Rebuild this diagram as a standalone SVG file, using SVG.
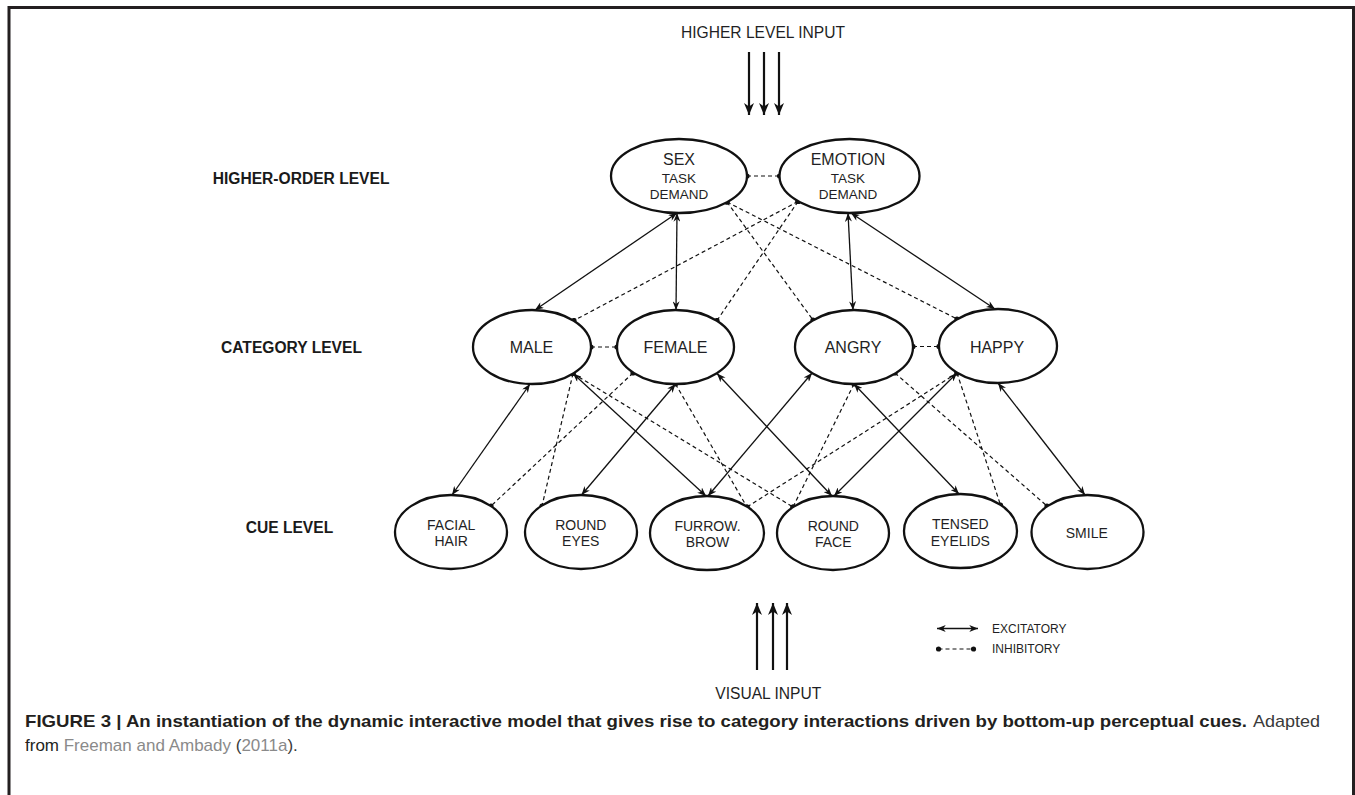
<svg xmlns="http://www.w3.org/2000/svg" width="1355" height="795" viewBox="0 0 1355 795">
<style>
.node ellipse{fill:#fff;stroke:#111;stroke-width:2.3}
.t{font-family:"Liberation Sans",Arial,sans-serif;fill:#1f1f24;text-anchor:middle}
.big{font-size:16px}
.sub{font-size:13.5px}
.cue{font-size:14px}
.lvl{font-family:"Liberation Sans",Arial,sans-serif;font-weight:bold;font-size:15.6px;fill:#1a1a1a}
.inp{font-family:"Liberation Sans",Arial,sans-serif;font-size:15.6px;fill:#1f1f24;text-anchor:middle}
.leg{font-family:"Liberation Sans",Arial,sans-serif;font-size:12px;fill:#1f1f24}
.exc{stroke:#111;stroke-width:1.3;fill:none;marker-start:url(#arr);marker-end:url(#arr)}
.inh{stroke:#111;stroke-width:1.2;fill:none;stroke-dasharray:4 3;marker-start:url(#dot);marker-end:url(#dot)}
.in{stroke:#111;stroke-width:2.2;fill:none;marker-end:url(#inarr)}
.capb{font-family:"Liberation Sans",Arial,sans-serif;font-weight:bold;font-size:17px;fill:#231f20}
.capr{font-family:"Liberation Sans",Arial,sans-serif;font-size:17px;fill:#3a3a3a}
.lnk{fill:#8a8a8a}
</style>
<defs>
<marker id="arr" viewBox="0 0 10 8" refX="10" refY="4" markerWidth="9" markerHeight="7" orient="auto-start-reverse" markerUnits="userSpaceOnUse"><path d="M0,0 L10,4 L0,8 L3,4 z" fill="#111"/></marker>
<marker id="dot" viewBox="-3 -3 6 6" refX="0" refY="0" markerWidth="6" markerHeight="6" markerUnits="userSpaceOnUse"><circle r="2.6" fill="#111"/></marker>
<marker id="inarr" viewBox="0 0 12 10" refX="12" refY="5" markerWidth="12" markerHeight="10" orient="auto" markerUnits="userSpaceOnUse"><path d="M0,0 L12,5 L0,10 L3.5,5 z" fill="#111"/></marker>
</defs>
<rect width="1355" height="795" fill="#fff"/>
<path d="M9,795 V7.5 H1353.5 V795" fill="none" stroke="#231f20" stroke-width="3"/>

<g id="connectors">
<line class="exc" x1="677" y1="213" x2="535" y2="310"/>
<line class="exc" x1="677" y1="213" x2="676" y2="310"/>
<line class="exc" x1="848" y1="213" x2="853" y2="310"/>
<line class="exc" x1="851" y1="213" x2="995" y2="309"/>
<line class="inh" x1="727" y1="202" x2="813" y2="320"/>
<line class="inh" x1="727" y1="202" x2="957" y2="319"/>
<line class="inh" x1="798" y1="201.5" x2="574" y2="320.5"/>
<line class="inh" x1="798" y1="201.5" x2="717" y2="320.5"/>
<line class="inh" x1="747" y1="176" x2="779.5" y2="176"/>
<line class="inh" x1="591" y1="347" x2="617" y2="347"/>
<line class="inh" x1="913" y1="346.5" x2="939" y2="346.5"/>
<line class="exc" x1="530" y1="384" x2="452" y2="495"/>
<line class="exc" x1="573" y1="373.5" x2="706" y2="496"/>
<line class="exc" x1="675.5" y1="384" x2="581.5" y2="495"/>
<line class="exc" x1="717" y1="373.5" x2="832" y2="496"/>
<line class="exc" x1="812" y1="373" x2="708" y2="496"/>
<line class="exc" x1="854" y1="384" x2="959" y2="494"/>
<line class="exc" x1="957" y1="373" x2="834" y2="496"/>
<line class="exc" x1="998" y1="383" x2="1085" y2="495"/>
<line class="inh" x1="573" y1="373.5" x2="542" y2="506"/>
<line class="inh" x1="573" y1="373.5" x2="793" y2="507"/>
<line class="inh" x1="633" y1="373" x2="491" y2="506"/>
<line class="inh" x1="675.5" y1="384" x2="747" y2="507"/>
<line class="inh" x1="854" y1="384" x2="793" y2="507"/>
<line class="inh" x1="895" y1="373" x2="1047" y2="506"/>
<line class="inh" x1="957" y1="373" x2="747" y2="507"/>
<line class="inh" x1="957" y1="373" x2="1000.5" y2="505"/>
<line class="in" x1="749" y1="52" x2="749" y2="115"/>
<line class="in" x1="764" y1="52" x2="764" y2="115"/>
<line class="in" x1="779" y1="52" x2="779" y2="115"/>
<line class="in" x1="757" y1="670" x2="757" y2="603"/>
<line class="in" x1="773" y1="670" x2="773" y2="603"/>
<line class="in" x1="787" y1="670" x2="787" y2="603"/>
</g>

<g id="sex" class="node"><ellipse cx="679" cy="176" rx="68" ry="37"/><text class="t big" x="679" y="165">SEX</text><text class="t sub" x="679" y="183.3">TASK</text><text class="t sub" x="679" y="199.3">DEMAND</text></g>
<g id="emotion" class="node"><ellipse cx="849.5" cy="176" rx="70" ry="37"/><text class="t big" x="848" y="165">EMOTION</text><text class="t sub" x="848" y="183.3">TASK</text><text class="t sub" x="848" y="199.3">DEMAND</text></g>

<g id="male" class="node"><ellipse cx="532" cy="347" rx="59" ry="37"/><text class="t big" x="531.5" y="353">MALE</text></g>
<g id="female" class="node"><ellipse cx="675.5" cy="347" rx="58.5" ry="37"/><text class="t big" x="675.5" y="353">FEMALE</text></g>
<g id="angry" class="node"><ellipse cx="854" cy="347" rx="59" ry="37"/><text class="t big" x="853" y="353">ANGRY</text></g>
<g id="happy" class="node"><ellipse cx="998" cy="346" rx="59" ry="37"/><text class="t big" x="997" y="352.5">HAPPY</text></g>

<g id="facial-hair" class="node"><ellipse cx="451" cy="532" rx="56" ry="37"/><text class="t cue" x="451.2" y="529.5">FACIAL</text><text class="t cue" x="451.2" y="546">HAIR</text></g>
<g id="round-eyes" class="node"><ellipse cx="581" cy="532" rx="56" ry="37"/><text class="t cue" x="580.8" y="529.5">ROUND</text><text class="t cue" x="580.8" y="546">EYES</text></g>
<g id="furrow-brow" class="node"><ellipse cx="707" cy="533" rx="57" ry="37"/><text class="t cue" x="707.5" y="530.5">FURROW.</text><text class="t cue" x="707.5" y="547">BROW</text></g>
<g id="round-face" class="node"><ellipse cx="833" cy="533" rx="56" ry="37"/><text class="t cue" x="833.3" y="530.5">ROUND</text><text class="t cue" x="833.3" y="547">FACE</text></g>
<g id="tensed-eyelids" class="node"><ellipse cx="960.5" cy="531" rx="56.5" ry="37"/><text class="t cue" x="960.3" y="529">TENSED</text><text class="t cue" x="960.3" y="545.5">EYELIDS</text></g>
<g id="smile" class="node"><ellipse cx="1087.5" cy="532" rx="56" ry="37"/><text class="t cue" x="1086.8" y="538">SMILE</text></g>

<g id="labels">
<text class="lvl" x="212.7" y="184.3">HIGHER-ORDER LEVEL</text>
<text class="lvl" x="221" y="352.7">CATEGORY LEVEL</text>
<text class="lvl" x="245.7" y="533">CUE LEVEL</text>
<text class="inp" x="763" y="37.7">HIGHER LEVEL INPUT</text>
<text class="inp" x="768.3" y="699">VISUAL INPUT</text>
</g>

<g id="legend">
<line class="exc" x1="937" y1="628.5" x2="978" y2="628.5"/>
<line class="inh" x1="938.5" y1="649" x2="973.5" y2="649"/>
<text class="leg" x="992" y="632.7">EXCITATORY</text>
<text class="leg" x="992" y="653.3">INHIBITORY</text>
</g>

<g id="caption">
<text class="capb" x="25" y="727" textLength="1222" lengthAdjust="spacingAndGlyphs">FIGURE 3 | An instantiation of the dynamic interactive model that gives rise to category interactions driven by bottom-up perceptual cues.</text>
<text class="capr" x="1253" y="727" textLength="67" lengthAdjust="spacingAndGlyphs">Adapted</text>
<text class="capr" x="25" y="751"><tspan fill="#231f20">from </tspan><tspan class="lnk">Freeman and Ambady</tspan> (<tspan class="lnk">2011a</tspan>).</text>
</g>
</svg>
